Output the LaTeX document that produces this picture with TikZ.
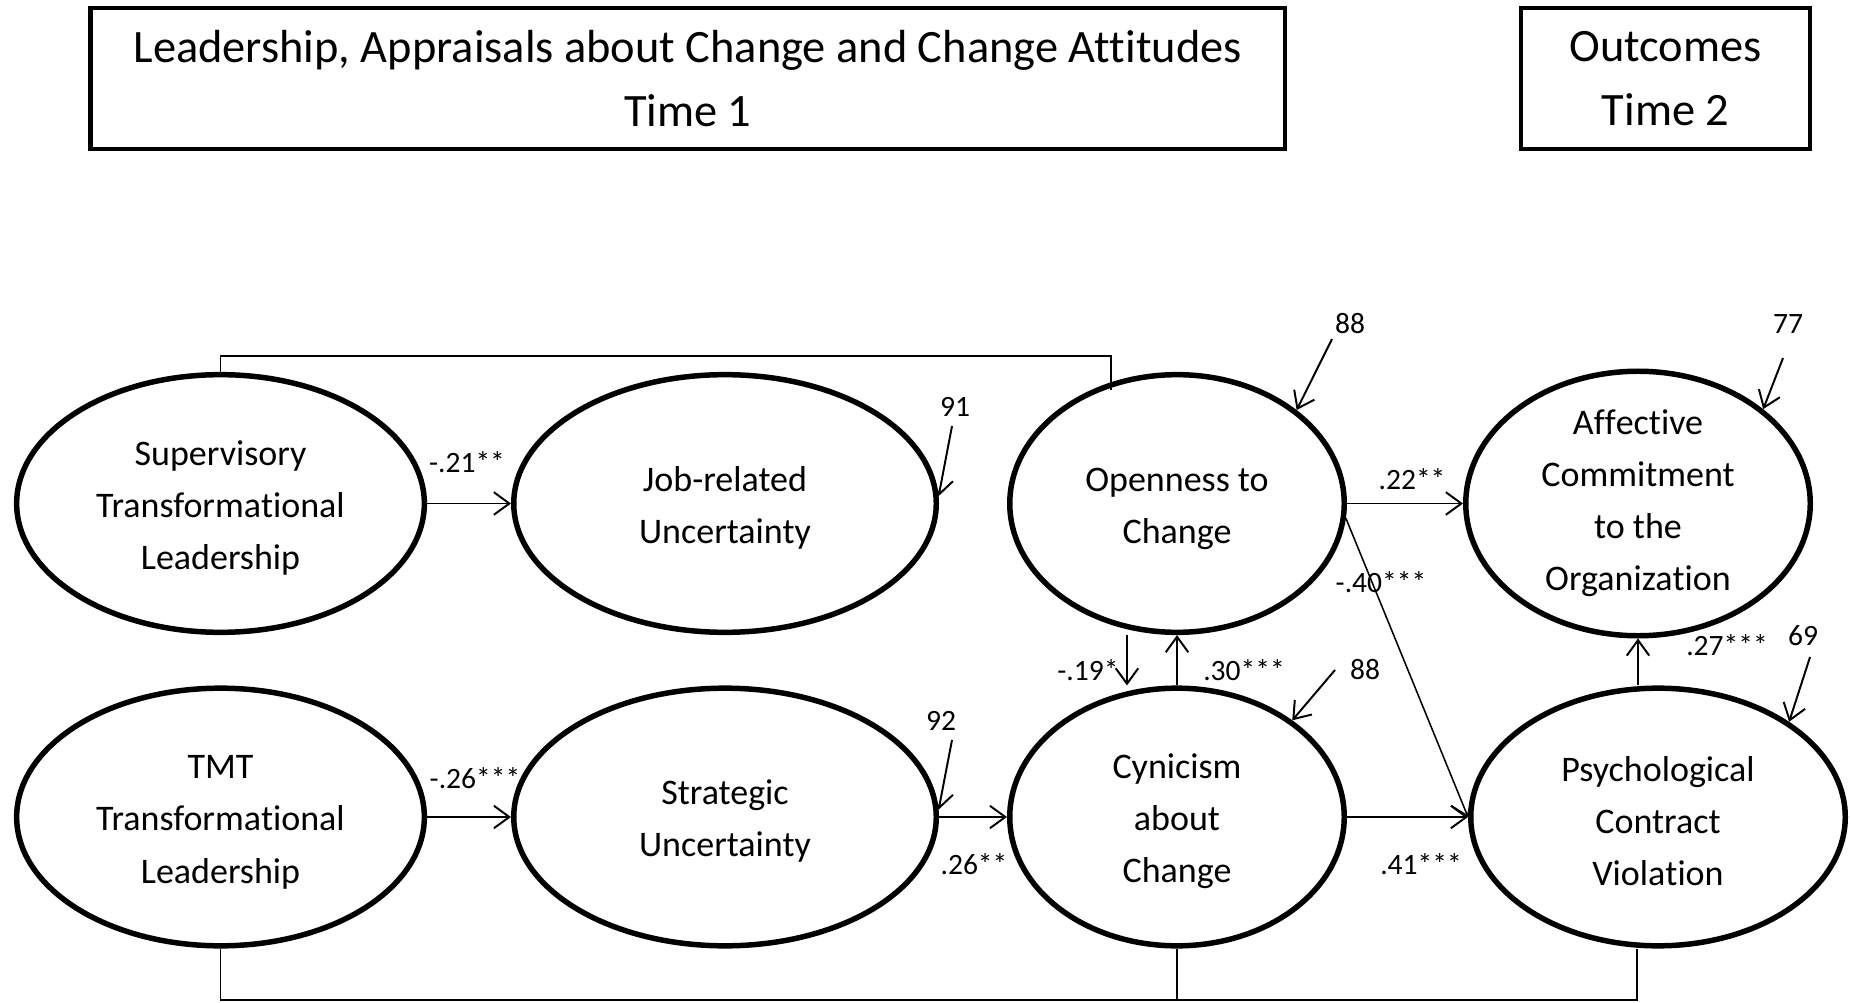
\documentclass[tikz,border=0pt]{standalone}
\usepackage{fontspec}
\setmainfont{Carlito}[Ligatures={NoCommon,NoRequired,NoContextual},Contextuals=NoAlternate]
\usetikzlibrary{shapes.geometric,arrows.meta}
\newcommand{\tstrut}{\rule{0pt}{24pt}}
\newcommand{\nolig}{\kern0pt }
\begin{document}
\begin{tikzpicture}[x=0.025cm,y=-0.025cm,
  lat/.style={ellipse, draw, line width=3.9pt, inner sep=0pt, align=center,
    minimum height=6.44cm, font=\fontsize{25.6}{37}\selectfont},
  hdr/.style={draw, line width=3pt, inner sep=0pt, align=center,
    minimum height=3.525cm, font=\fontsize{33}{46}\selectfont},
  lbl/.style={inner sep=0pt, font=\fontsize{21}{25}\selectfont},
  arr/.style={line width=1.4pt, -{Straight Barb[length=11pt,width=16pt]}},
  corr/.style={line width=1.4pt},
]
\useasboundingbox[fill=white] (0,0) rectangle (1851,1003);

% headers
\node[hdr, minimum width=29.86cm] (h1) at (687.75,78.5)
  {Leadership, Appraisals about Change and Change At\nolig t\nolig itudes\\Time 1};
\node[hdr, minimum width=7.225cm] (h2) at (1665.5,78.5) {Outcomes\\Time 2};

% latent variables
\node[lat, minimum width=10.19cm] (sup) at (220.5,503.5) {\tstrut Supervisory\\Transforma\nolig t\nolig ional\\Leadership};
\node[lat, minimum width=10.19cm] (tmt) at (220.5,817) {\tstrut TMT\\Transforma\nolig t\nolig ional\\Leadership};
\node[lat, minimum width=10.56cm] (job) at (725,503.5) {\tstrut Job-related\\Uncertainty};
\node[lat, minimum width=10.56cm] (strat) at (725,817) {\tstrut Strategic\\Uncertainty};
\node[lat, minimum width=8.36cm] (open) at (1177,503.5) {\tstrut Openness to\\Change};
\node[lat, minimum width=8.36cm] (cyn) at (1177,817) {\tstrut Cynicism\\about\\Change};
\node[lat, minimum width=8.61cm, minimum height=6.31cm] (aff) at (1638,503.5) {Af\nolig f\nolig ec\nolig t\nolig ive\\Commitment\\to the\\Organiza\nolig t\nolig ion};
\node[lat, minimum width=9.36cm] (psy) at (1658,817) {\tstrut Psychological\\Contract\\Viola\nolig t\nolig ion};

% paths
\draw[arr] (sup) -- (job);
\draw[arr] (tmt) -- (strat);
\draw[arr] (strat) -- (cyn);
\draw[arr] (cyn) -- (psy);
\draw[arr] (open) -- (aff);
\draw[arr, line width=1.1pt] (open.-5) -- (psy.west);
\draw[arr] ([xshift=-1.25cm]open.south) -- ([xshift=-1.25cm]cyn.north);
\draw[arr] (cyn.north) -- (open.south);
\draw[arr] (psy.north -| aff.south) -- (aff.south);

% path labels
\node[lbl] (l1) at (467,462) {-.21**};
\node[lbl] (l2) at (475,778) {-.26***};
\node[lbl] (l3) at (974,864) {.26**};
\node[lbl] (l4) at (1421,864) {.41***};
\node[lbl] (l5) at (1412,479) {.22**};
\node[lbl] (l6) at (1381,582) {-.40***};
\node[lbl] (l7) at (1088,670) {-.19*};
\node[lbl] (l8) at (1244,670) {.30***};
\node[lbl] (l9) at (1727,645) {.27***};

% disturbances
\coordinate (d1) at (1332,339);
\coordinate (d2) at (1783,358);
\coordinate (d3) at (952,426);
\coordinate (d4) at (952,740);
\coordinate (d5) at (1335,670);
\coordinate (d6) at (1810,657);
\draw[arr] (d1) -- (open.38);
\draw[arr] (d2) -- (aff.37);
\draw[arr] (d3) -- (job.2);
\draw[arr] (d4) -- (strat.2);
\draw[arr] (d5) -- (cyn.40);
\draw[arr] (d6) -- (psy.36);
\node[lbl] (r1) at (1350,324) {88};
\node[lbl] (r2) at (1788,324) {77};
\node[lbl] (r3) at (955,407) {91};
\node[lbl] (r4) at (941,721) {92};
\node[lbl] (r5) at (1365,670) {88};
\node[lbl] (r6) at (1803,636) {69};

% correlations
\coordinate (ytop) at (0,356);
\coordinate (openTop) at (1111,390);
\coordinate (ybot) at (0,1000);
\draw[corr] (sup.north) -- (sup.north |- ytop) -| (openTop);
\draw[corr] (tmt.south) -- (tmt.south |- ybot) -| (cyn.south);
\draw[corr] (cyn.south) -- (cyn.south |- ybot) -| ([xshift=-0.525cm]psy.south);
\end{tikzpicture}
\end{document}
